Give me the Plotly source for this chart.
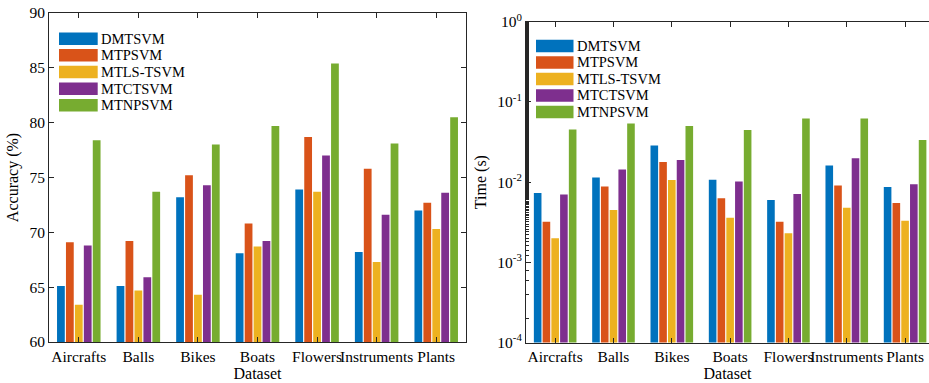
import plotly.graph_objects as go

datasets = ["Aircrafts", "Balls", "Bikes", "Boats", "Flowers", "Instruments", "Plants"]
methods = ["DMTSVM", "MTPSVM", "MTLS-TSVM", "MTCTSVM", "MTNPSVM"]
colors = ["#0072BD", "#D95319", "#EDB120", "#7E2F8E", "#77AC30"]

acc_dmtsvm = [65.1, 65.1, 73.2, 68.1, 73.9, 68.2, 72.0]
acc_mtpsvm = [69.1, 69.2, 75.2, 70.8, 78.7, 75.8, 72.7]
acc_mtlstsvm = [63.4, 64.7, 64.3, 68.7, 73.7, 67.3, 70.3]
acc_mtctsvm = [68.8, 65.9, 74.3, 69.2, 77.0, 71.6, 73.6]
acc_mtnpsvm = [78.4, 73.7, 78.0, 79.7, 85.4, 78.1, 80.5]

time_dmtsvm = [0.0073, 0.0114, 0.0287, 0.0107, 0.0060, 0.0161, 0.0087]
time_mtpsvm = [0.0032, 0.0088, 0.0178, 0.0063, 0.0032, 0.0091, 0.0055]
time_mtlstsvm = [0.0020, 0.0045, 0.0106, 0.0036, 0.0023, 0.0048, 0.0033]
time_mtctsvm = [0.0070, 0.0144, 0.0188, 0.0102, 0.0071, 0.0199, 0.0094]
time_mtnpsvm = [0.0454, 0.0539, 0.0500, 0.0445, 0.0622, 0.0622, 0.0334]

acc_ticks = [60, 65, 70, 75, 80, 85, 90]
time_exponents = [-4, -3, -2, -1, 0]

acc_series = [acc_dmtsvm, acc_mtpsvm, acc_mtlstsvm, acc_mtctsvm, acc_mtnpsvm]
time_series = [time_dmtsvm, time_mtpsvm, time_mtlstsvm, time_mtctsvm, time_mtnpsvm]

W, H = 929, 383
FONT = "Liberation Serif"
AX = "#262626"

fig = go.Figure()
for name, vals, c in zip(methods, acc_series, colors):
    fig.add_trace(go.Bar(x=datasets, y=vals, name=name, marker=dict(color=c, line=dict(width=0)),
                         xaxis="x", yaxis="y", showlegend=False))
for name, vals, c in zip(methods, time_series, colors):
    fig.add_trace(go.Bar(x=datasets, y=vals, name=name, marker=dict(color=c, line=dict(width=0)),
                         xaxis="x2", yaxis="y2", showlegend=False))

def px(x):
    return x / W

def py(y):
    return 1 - y / H

axis_common = dict(showline=True, linecolor=AX, linewidth=1, ticks="inside",
                   tickcolor=AX, tickwidth=1, showgrid=False, zeroline=False, automargin=False,
                   tickfont=dict(family=FONT, size=15.5, color="black"),
                   title_font=dict(family=FONT, size=16, color="black"))

fig.update_layout(
    width=W, height=H, margin=dict(l=0, r=0, t=0, b=0, autoexpand=False),
    plot_bgcolor="white", paper_bgcolor="white",
    barmode="group", bargap=0.25, bargroupgap=0.13,
    font=dict(family=FONT, size=15, color="black"),
    xaxis=dict(domain=[px(49), px(466)], anchor="y", range=[-0.5, 6.5], ticklen=5, tickangle=0,
               mirror="ticks", title=dict(text="Dataset", standoff=3), **axis_common),
    yaxis=dict(domain=[py(342), py(13)], anchor="x", range=[60, 90], tickvals=acc_ticks, ticklen=5,
               mirror="ticks", title=dict(text="Accuracy (%)", standoff=6), **axis_common),
    xaxis2=dict(domain=[px(526), 1.0], anchor="y2", range=[-0.5, 6.41], ticklen=5, tickangle=0,
                mirror="ticks", title=dict(text="Dataset", standoff=3), **axis_common),
    yaxis2=dict(domain=[py(342.5), py(21.7)], anchor="x2", type="log", range=[-4, 0],
                tickvals=[10 ** e for e in time_exponents],
                ticktext=["10<sup>%d</sup>" % e for e in time_exponents], ticklen=5, mirror=False,
                minor=dict(ticks="inside", ticklen=3, tickcolor=AX, showgrid=False),
                title=dict(text="Time (s)", standoff=6), **axis_common),
)

# legends drawn as wide swatches
legend_specs = [
    dict(x0=59, x1=97.7, xt=100, ys=[38.7, 55.3, 72.0, 88.7, 105.3]),
    dict(x0=536, x1=573.5, xt=576, ys=[46.0, 62.5, 79.0, 95.5, 112.0]),
]
for spec in legend_specs:
    for name, c, yc in zip(methods, colors, spec["ys"]):
        fig.add_shape(type="rect", xref="paper", yref="paper",
                      x0=px(spec["x0"]), x1=px(spec["x1"]), y0=py(yc + 6.3), y1=py(yc - 6.3),
                      fillcolor=c, line=dict(width=0))
        fig.add_annotation(xref="paper", yref="paper", x=px(spec["xt"]), y=py(yc), text=name,
                           showarrow=False, xanchor="left", yanchor="middle", borderpad=0,
                           font=dict(family=FONT, size=14.5, color="black"))

fig.write_html("out.html", config={"displayModeBar": False},
               post_script="document.documentElement.style.margin='0';document.body.style.margin='0';"
                           "document.body.style.padding='0';document.body.style.overflow='hidden';")
